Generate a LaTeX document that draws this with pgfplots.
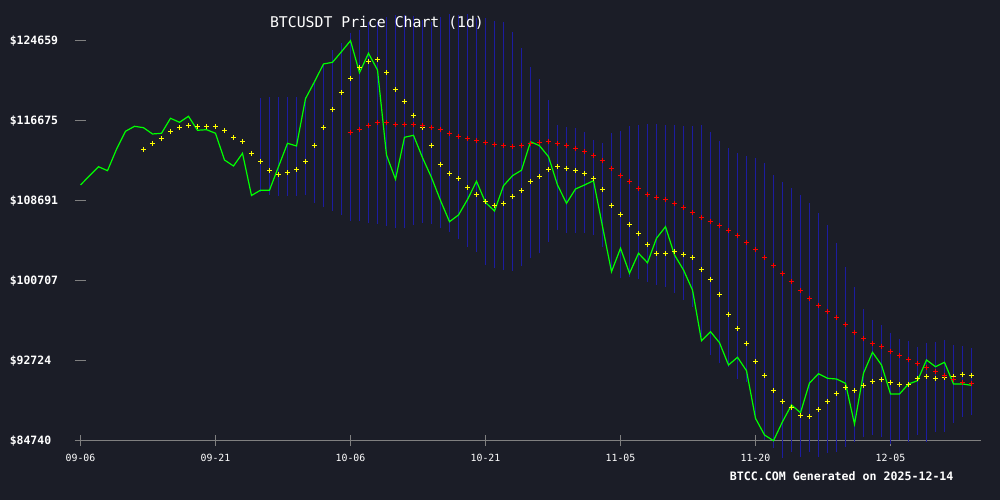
\documentclass[border=0pt]{standalone}
\usepackage{fontspec}
\setmonofont{DejaVu Sans Mono}
\usepackage{pgfplots}
\pgfplotsset{compat=1.18}
\usepackage{pgfplotstable}
\definecolor{bg}{HTML}{1B1D27}
\definecolor{bandblue}{HTML}{1C1CA0}
\definecolor{axgray}{HTML}{808080}
\definecolor{pricegreen}{HTML}{00FF00}
\definecolor{sarYellow}{HTML}{FFFF00}
\definecolor{maRed}{HTML}{FF0000}

\pgfplotstableread{
k v
0 110260
1 111187
2 112085
3 111686
4 113822
5 115618
6 116117
7 115977
8 115349
9 115419
10 116916
11 116516
12 117115
13 115718
14 115778
15 115419
16 112754
17 112155
18 113423
19 109211
20 109740
21 109740
22 112085
23 114421
24 114151
25 118872
26 120568
27 122335
28 122504
29 123562
30 124659
31 121466
32 123403
33 121736
34 113253
35 110828
36 115019
37 115219
38 112983
39 111007
40 108712
41 106596
42 107265
43 108812
44 110628
45 108512
46 107664
47 110189
48 111187
49 111726
50 114580
51 114181
52 113083
53 110259
54 108433
55 109860
56 110259
57 110688
58 106117
59 101606
60 103942
61 101447
62 103443
63 102504
64 104940
65 106097
66 103273
67 101776
68 99780
69 94720
70 95618
71 94520
72 92295
73 93063
74 91726
75 86976
76 85309
77 84740
78 86636
79 88303
80 87534
81 90498
82 91427
83 90968
84 90898
85 90469
86 86407
87 91467
88 93562
89 92295
90 89401
91 89401
92 90399
93 90728
94 92794
95 92125
96 92564
97 90399
98 90399
99 90269
}\pricedata

\pgfplotstableread{
k v
7 113822
8 114421
9 114920
10 115618
11 116017
12 116217
13 116117
14 116117
15 116117
16 115718
17 115019
18 114620
19 113423
20 112624
21 111726
22 111327
23 111526
24 111826
25 112624
26 114221
27 116017
28 117814
29 119510
30 120908
31 122005
32 122604
33 122804
34 121506
35 119810
36 118612
37 117215
38 116017
39 114221
40 112325
41 111427
42 110928
43 110029
44 109331
45 108632
46 108233
47 108433
48 109131
49 109730
50 110628
51 111127
52 111826
53 112125
54 111926
55 111726
56 111427
57 110928
58 109830
59 108233
60 107335
61 106337
62 105439
63 104341
64 103443
65 103443
66 103642
67 103343
68 103043
69 101846
70 100848
71 99351
72 97355
73 95958
74 94461
75 92664
76 91267
77 89770
78 88672
79 88073
80 87275
81 87175
82 87874
83 88672
84 89471
85 90069
86 89770
87 90269
88 90668
89 90868
90 90568
91 90369
92 90369
93 90968
94 91167
95 90968
96 91067
97 91167
98 91367
99 91267
}\sardata

\pgfplotstableread{
k v
30 115518
31 115818
32 116217
33 116516
34 116516
35 116317
36 116317
37 116317
38 116217
39 116017
40 115818
41 115419
42 115119
43 114920
44 114720
45 114520
46 114321
47 114221
48 114121
49 114221
50 114421
51 114520
52 114620
53 114421
54 114221
55 113922
56 113622
57 113223
58 112724
59 111926
60 111227
61 110628
62 109930
63 109331
64 109031
65 108832
66 108433
67 108033
68 107534
69 107035
70 106636
71 106237
72 105738
73 105239
74 104540
75 103842
76 103043
77 102245
78 101447
79 100648
80 99750
81 98952
82 98253
83 97654
84 97055
85 96357
86 95558
87 94960
88 94461
89 94161
90 93662
91 93263
92 92864
93 92465
94 92065
95 91666
96 91267
97 90868
98 90568
99 90469
}\madata

\begin{document}
\begin{tikzpicture}[x=1pt,y=1pt]
\fill[bg] (0,0) rectangle (750,375);
\begin{axis}[
  at={(60.375pt,44.475pt)}, anchor=south west,
  scale only axis, width=675.375pt, height=300pt,
  xmin=0, xmax=100.056, ymin=84740, ymax=124659,
  clip=false, scaled y ticks=false, scaled x ticks=false,
  axis x line=bottom, axis y line=left,
  x axis line style={draw=axgray, line width=0.8pt, -, shorten <=-4.125pt},
  y axis line style={draw=none, -},
  tick align=center, major tick length=8.25pt,
  tick style={draw=axgray, line width=0.8pt},
  xtick={0,15,30,45,60,75,90},
  xticklabels={09-06,09-21,10-06,10-21,11-05,11-20,12-05},
  ytick={84740,92724,100707,108691,116675,124659},
  yticklabels={\$84740,\$92724,\$100707,\$108691,\$116675,\$124659},
  xticklabel style={font=\ttfamily\fontsize{7.4}{8}\selectfont, text=white, yshift=-2.25pt},
  yticklabel style={font=\ttfamily\bfseries\fontsize{8.6}{10}\selectfont, text=white, anchor=west, inner sep=0pt, xshift=-49.125pt},
]
\addplot[bandblue, line width=0.9pt, mark=none, unbounded coords=jump] coordinates {
(20,109560) (20,118941) (20,nan)
(21,109261) (21,119041) (21,nan)
(22,109161) (22,119041) (22,nan)
(23,109161) (23,119041) (23,nan)
(24,109161) (24,119041) (24,nan)
(25,109261) (25,119041) (25,nan)
(26,108462) (26,120738) (26,nan)
(27,108063) (27,122235) (27,nan)
(28,107664) (28,123732) (28,nan)
(29,107265) (29,124430) (29,nan)
(30,106666) (30,125428) (30,nan)
(31,106666) (31,125728) (31,nan)
(32,106466) (32,126526) (32,nan)
(33,106367) (33,126526) (33,nan)
(34,106167) (34,127025) (34,nan)
(35,105967) (35,127225) (35,nan)
(36,105967) (36,127225) (36,nan)
(37,106267) (37,127125) (37,nan)
(38,106466) (38,126726) (38,nan)
(39,106367) (39,126526) (39,nan)
(40,105967) (40,127025) (40,nan)
(41,105568) (41,127325) (41,nan)
(42,104870) (42,127225) (42,nan)
(43,104071) (43,127325) (43,nan)
(44,103572) (44,126925) (44,nan)
(45,102275) (45,126925) (45,nan)
(46,101975) (46,126626) (46,nan)
(47,101776) (47,126526) (47,nan)
(48,101676) (48,125528) (48,nan)
(49,102175) (49,123931) (49,nan)
(50,102973) (50,122035) (50,nan)
(51,103472) (51,120838) (51,nan)
(52,104570) (52,118742) (52,nan)
(53,105768) (53,116247) (53,nan)
(54,105468) (54,116047) (54,nan)
(55,105468) (55,115947) (55,nan)
(56,105468) (56,115548) (56,nan)
(57,105269) (57,114750) (57,nan)
(58,104071) (58,114450) (58,nan)
(59,101776) (59,115448) (59,nan)
(60,100977) (60,115648) (60,nan)
(61,101077) (61,116147) (61,nan)
(62,100878) (62,116247) (62,nan)
(63,100578) (63,116347) (63,nan)
(64,100279) (64,116347) (64,nan)
(65,100079) (65,116247) (65,nan)
(66,99480) (66,116247) (66,nan)
(67,98782) (67,116147) (67,nan)
(68,98083) (68,116147) (68,nan)
(69,95089) (69,116247) (69,nan)
(70,93293) (70,115548) (70,nan)
(71,92494) (71,114650) (71,nan)
(72,92095) (72,113951) (72,nan)
(73,90898) (73,113452) (73,nan)
(74,90598) (74,113153) (74,nan)
(75,86806) (75,112953) (75,nan)
(76,84810) (76,112454) (76,nan)
(77,84011) (77,111257) (77,nan)
(78,83013) (78,110558) (78,nan)
(79,83612) (79,109959) (79,nan)
(80,83113) (80,109261) (80,nan)
(81,83612) (81,108462) (81,nan)
(82,83113) (82,107464) (82,nan)
(83,83512) (83,106267) (83,nan)
(84,83612) (84,104470) (84,nan)
(85,84111) (85,102075) (85,nan)
(86,84610) (86,100079) (86,nan)
(87,85109) (87,97884) (87,nan)
(88,85309) (88,96786) (88,nan)
(89,85109) (89,96287) (89,nan)
(90,84411) (90,95488) (90,nan)
(91,84810) (91,94890) (91,nan)
(92,84610) (92,94690) (92,nan)
(93,85309) (93,94091) (93,nan)
(94,84610) (94,94490) (94,nan)
(95,85608) (95,94590) (95,nan)
(96,85608) (96,94790) (96,nan)
(97,86506) (97,94291) (97,nan)
(98,87105) (98,94191) (98,nan)
(99,87305) (99,93991)
};
\addplot[pricegreen, line width=0.9pt, mark=none] table[x=k,y=v] {\pricedata};
\addplot[only marks, mark=+, mark size=1.9pt, mark options={sarYellow, line width=0.9pt}] table[x=k,y=v] {\sardata};
\addplot[only marks, mark=+, mark size=1.9pt, mark options={maRed, line width=0.9pt}] table[x=k,y=v] {\madata};
\end{axis}
\node[text=white, font=\ttfamily\fontsize{11.1}{13}\selectfont] at (282.75,357.75) {BTCUSDT Price Chart (1d)};
\node[text=white, font=\ttfamily\bfseries\fontsize{8.7}{10}\selectfont] at (631.3,17.5) {BTCC.COM Generated on 2025-12-14};
\pgfresetboundingbox
\path[use as bounding box] (0,0) rectangle (750,375);
\end{tikzpicture}
\end{document}
